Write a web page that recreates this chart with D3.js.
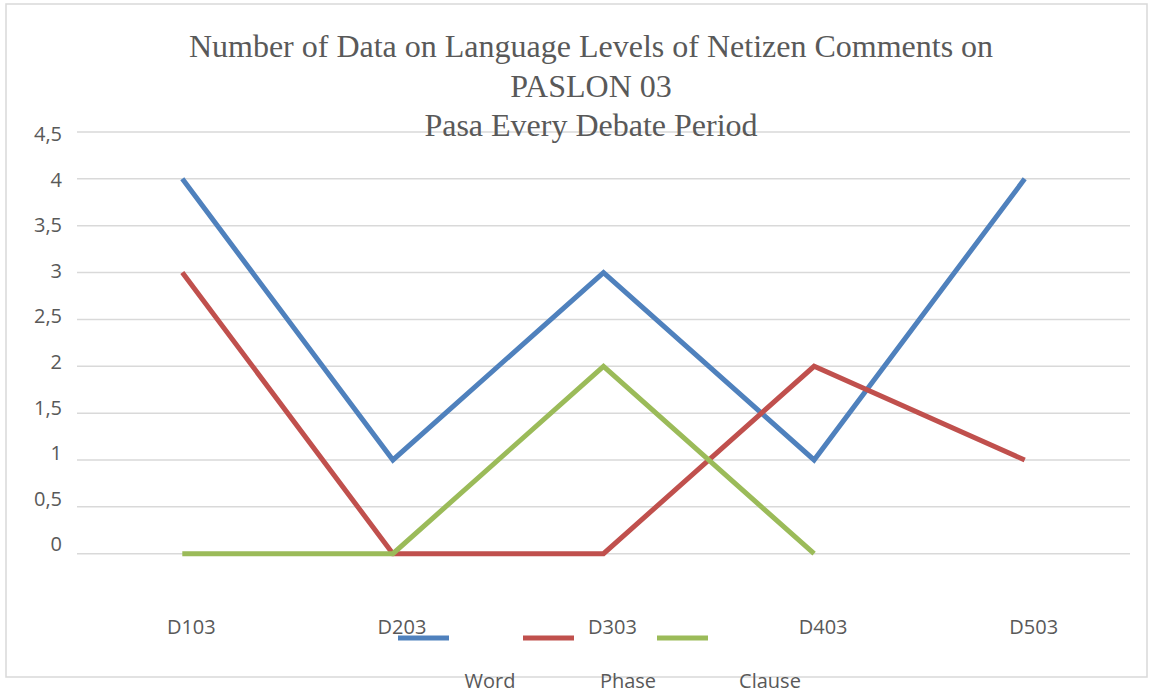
<!DOCTYPE html>
<html>
<head>
<meta charset="utf-8">
<script src="https://cdn.jsdelivr.net/npm/d3@7"></script>
<style>
  body { margin: 0; background: #fff; }
  svg { display: block; }
</style>
</head>
<body>
<div id="chart"></div>
<script>
// data
var categories = ['D103', 'D203', 'D303', 'D403', 'D503'];
var wordValues = [4, 1, 3, 1, 4];
var phaseValues = [3, 0, 0, 2, 1];
var clauseValues = [0, 0, 2, 0, null];
var seriesNames = ['Word', 'Phase', 'Clause'];
var seriesColors = ['#4F81BD', '#C0504D', '#9BBB59'];
var yTicks = [0, 0.5, 1, 1.5, 2, 2.5, 3, 3.5, 4, 4.5];
var titleLines = ['Number of Data on Language Levels of Netizen Comments on', 'PASLON 03', 'Pasa Every Debate Period'];

var width = 1153, height = 693;
var svg = d3.select('#chart').append('svg')
    .attr('width', width)
    .attr('height', height);

// outer frame
svg.append('rect')
   .attr('x', 6).attr('y', 4)
   .attr('width', 1141).attr('height', 673)
   .attr('fill', 'none')
   .attr('stroke', '#d9d9d9')
   .attr('stroke-width', 1.5);

var x = d3.scaleBand().domain(categories).range([77, 1130]);
var y = d3.scaleLinear().domain([0, 4.5]).range([553.7, 132]);
// the tick labels sit on a slightly tighter spacing than the gridlines
var yLabel = d3.scaleLinear().domain([0, 4.5]).range([543.5, 133.5]);

// gridlines
svg.append('g')
   .selectAll('line')
   .data(yTicks)
   .enter().append('line')
   .attr('x1', 77).attr('x2', 1130)
   .attr('y1', function(d) { return y(d); })
   .attr('y2', function(d) { return y(d); })
   .attr('stroke', '#d9d9d9')
   .attr('stroke-width', 1.5);

// y axis labels
var yAxis = d3.axisLeft(yLabel).tickValues(yTicks).tickSize(0).tickPadding(15)
    .tickFormat(function(d) { return String(d).replace('.', ','); });
var yg = svg.append('g').attr('transform', 'translate(77,0)').call(yAxis);
yg.select('.domain').remove();
yg.selectAll('text')
  .attr('font-family', 'Open Sans, sans-serif')
  .attr('font-size', 20)
  .attr('fill', '#595959')
  .attr('dy', '0.36em');

// x axis labels
var xAxis = d3.axisBottom(x).tickSize(0).tickPadding(0);
var xg = svg.append('g').attr('transform', 'translate(9,620)').call(xAxis);
xg.select('.domain').remove();
xg.selectAll('text')
  .attr('font-family', 'Open Sans, sans-serif')
  .attr('font-size', 20)
  .attr('fill', '#595959');

// lines
var allSeries = [wordValues, phaseValues, clauseValues];
var line = d3.line()
    .defined(function(d) { return d !== null; })
    .x(function(d, i) { return x(categories[i]) + x.bandwidth() / 2; })
    .y(function(d) { return y(d); });

svg.append('g')
   .selectAll('path')
   .data(allSeries)
   .enter().append('path')
   .attr('d', line)
   .attr('fill', 'none')
   .attr('stroke', function(d, i) { return seriesColors[i]; })
   .attr('stroke-width', 5)
   .attr('stroke-linejoin', 'miter')
   .attr('stroke-linecap', 'butt');

// title
svg.append('g')
   .selectAll('text')
   .data(titleLines)
   .enter().append('text')
   .attr('x', 591)
   .attr('y', function(d, i) { return 57 + i * 39.5; })
   .attr('text-anchor', 'middle')
   .attr('font-family', 'Liberation Serif, Times New Roman, serif')
   .attr('font-size', 32)
   .attr('fill', '#595959')
   .text(function(d) { return d; });

// legend
var legendSwatchX = [398, 523, 657];
var legendTextX = [490, 628, 770];
var legend = svg.append('g');
legend.selectAll('line')
  .data(seriesNames)
  .enter().append('line')
  .attr('x1', function(d, i) { return legendSwatchX[i]; })
  .attr('x2', function(d, i) { return legendSwatchX[i] + 51; })
  .attr('y1', 638).attr('y2', 638)
  .attr('stroke', function(d, i) { return seriesColors[i]; })
  .attr('stroke-width', 5);
legend.selectAll('text')
  .data(seriesNames)
  .enter().append('text')
  .attr('x', function(d, i) { return legendTextX[i]; })
  .attr('y', 688)
  .attr('text-anchor', 'middle')
  .attr('font-family', 'Open Sans, sans-serif')
  .attr('font-size', 20)
  .attr('fill', '#595959')
  .text(function(d) { return d; });
</script>
</body>
</html>
